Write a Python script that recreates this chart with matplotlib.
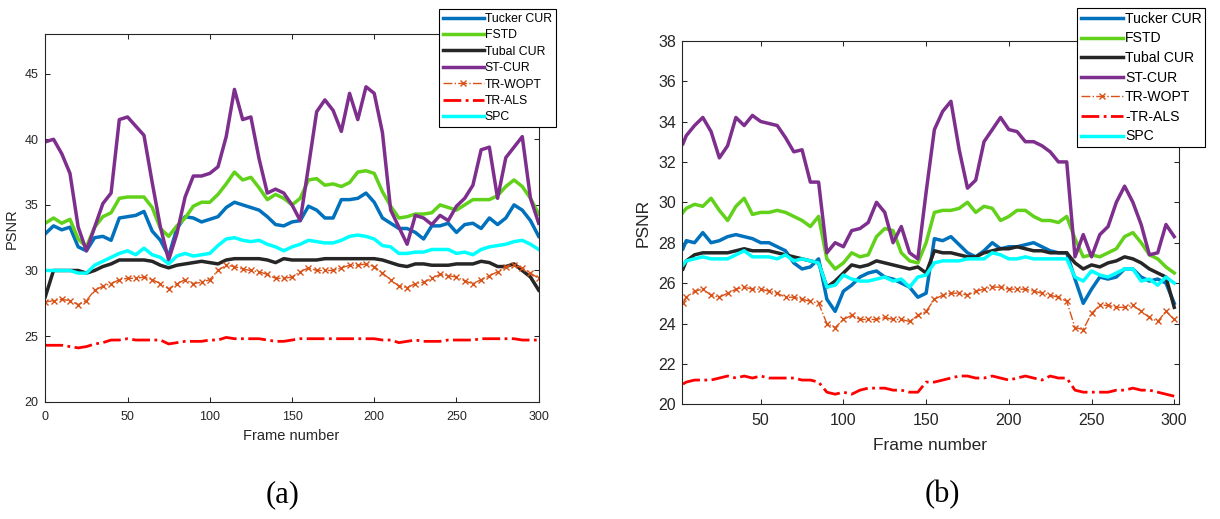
import matplotlib
matplotlib.use("Agg")
import matplotlib.pyplot as plt

plt.rcParams['font.family'] = ['Liberation Sans', 'DejaVu Sans']

# ---------------- data : panel (a) ----------------
frames_a = list(range(0, 301, 5))

a_tucker = [32.8, 33.4, 33.1, 33.3, 31.8, 31.5, 32.5, 32.6, 32.3, 34.0,
            34.1, 34.2, 34.5, 33.0, 32.3, 31.1, 33.2, 34.1, 34.0, 33.7,
            33.9, 34.1, 34.8, 35.2, 35.0, 34.8, 34.6, 34.1, 33.5, 33.4,
            33.7, 33.8, 34.9, 34.6, 34.0, 34.0, 35.4, 35.4, 35.5, 35.9,
            35.2, 34.0, 33.6, 33.2, 33.2, 32.9, 32.4, 33.4, 33.4, 33.6,
            32.9, 33.5, 33.6, 33.2, 34.0, 33.5, 34.0, 35.0, 34.6, 33.8,
            32.6]
a_fstd = [33.6, 34.0, 33.6, 33.9, 32.4, 31.8, 33.3, 34.1, 34.4, 35.5,
          35.6, 35.6, 35.6, 34.8, 33.2, 32.6, 33.4, 34.0, 34.9, 35.2,
          35.2, 35.8, 36.6, 37.5, 36.9, 37.1, 36.3, 35.4, 35.8, 35.5,
          35.0, 35.5, 36.9, 37.0, 36.5, 36.6, 36.4, 36.7, 37.5, 37.6,
          37.4, 36.0, 34.9, 34.0, 34.1, 34.3, 34.3, 34.4, 35.0, 34.8,
          34.6, 35.0, 35.4, 35.4, 35.4, 35.7, 36.4, 36.9, 36.4, 35.5,
          34.3]
a_tubal = [28.0, 30.0, 30.0, 30.0, 30.0, 29.8, 30.0, 30.3, 30.5, 30.8,
           30.8, 30.8, 30.8, 30.7, 30.4, 30.2, 30.4, 30.5, 30.6, 30.7,
           30.6, 30.5, 30.8, 30.9, 30.9, 30.9, 30.9, 30.8, 30.6, 30.9,
           30.8, 30.8, 30.8, 30.8, 30.9, 30.9, 30.9, 30.9, 30.9, 30.9,
           30.9, 30.8, 30.6, 30.4, 30.3, 30.5, 30.5, 30.4, 30.4, 30.4,
           30.5, 30.5, 30.5, 30.7, 30.6, 30.3, 30.3, 30.5, 30.0, 29.5,
           28.5]
a_stcur = [39.8, 40.0, 38.9, 37.4, 33.3, 31.5, 33.3, 35.1, 35.9, 41.5,
           41.7, 41.0, 40.3, 36.7, 33.3, 30.8, 32.8, 35.6, 37.2, 37.2,
           37.4, 37.9, 40.2, 43.8, 41.5, 41.7, 38.5, 35.9, 36.2, 35.9,
           35.0, 33.8, 37.9, 42.1, 43.0, 42.2, 40.6, 43.5, 41.5, 44.0,
           43.5, 40.5, 34.6, 33.3, 32.0, 34.2, 34.0, 33.5, 34.2, 33.8,
           34.9, 35.5, 36.5, 39.2, 39.4, 35.5, 38.6, 39.4, 40.2, 35.5,
           33.6]
a_trwopt = [27.6, 27.7, 27.8, 27.7, 27.4, 27.7, 28.5, 28.8, 29.0, 29.3,
            29.4, 29.4, 29.5, 29.3, 29.0, 28.6, 29.0, 29.3, 29.0, 29.1,
            29.3, 30.0, 30.4, 30.3, 30.1, 30.0, 29.9, 29.7, 29.4, 29.4,
            29.5, 29.9, 30.2, 30.0, 30.0, 30.0, 30.2, 30.4, 30.4, 30.5,
            30.3, 29.8, 29.3, 28.8, 28.7, 29.0, 29.1, 29.4, 29.7, 29.6,
            29.5, 29.2, 29.0, 29.3, 29.6, 29.9, 30.3, 30.4, 30.2, 29.8,
            29.4]
a_trals = [24.3, 24.3, 24.3, 24.2, 24.1, 24.2, 24.4, 24.5, 24.7, 24.7,
           24.8, 24.7, 24.7, 24.7, 24.7, 24.4, 24.5, 24.6, 24.6, 24.6,
           24.7, 24.7, 24.9, 24.8, 24.8, 24.8, 24.8, 24.7, 24.6, 24.6,
           24.7, 24.8, 24.8, 24.8, 24.8, 24.8, 24.8, 24.8, 24.8, 24.8,
           24.8, 24.7, 24.7, 24.5, 24.6, 24.7, 24.6, 24.6, 24.6, 24.7,
           24.7, 24.7, 24.7, 24.8, 24.8, 24.8, 24.8, 24.8, 24.7, 24.7,
           24.7]
a_spc = [30.0, 30.0, 30.0, 30.0, 29.8, 29.8, 30.4, 30.7, 31.0, 31.3,
         31.5, 31.2, 31.7, 31.2, 31.0, 30.5, 31.1, 31.3, 31.1, 31.2,
         31.3, 31.9, 32.4, 32.5, 32.3, 32.2, 32.3, 32.0, 31.8, 31.5,
         31.8, 32.0, 32.3, 32.2, 32.1, 32.1, 32.3, 32.6, 32.7, 32.6,
         32.4, 31.9, 31.8, 31.3, 31.3, 31.4, 31.4, 31.6, 31.6, 31.6,
         31.3, 31.4, 31.2, 31.6, 31.8, 31.9, 32.0, 32.2, 32.3, 32.0,
         31.6]

# ---------------- data : panel (b) ----------------
frames_b = [3] + list(range(5, 301, 5))

b_tucker = [27.7, 28.1, 28.0, 28.5, 28.0, 28.1, 28.3, 28.4, 28.3, 28.2,
            28.0, 28.0, 27.8, 27.6, 27.0, 26.7, 26.8, 27.2, 25.2, 24.6,
            25.6, 25.9, 26.3, 26.5, 26.6, 26.3, 26.2, 26.0, 25.8, 25.3,
            25.5, 28.2, 28.1, 28.3, 27.9, 27.5, 27.3, 27.6, 28.0, 27.7,
            27.8, 27.8, 27.9, 28.0, 27.8, 27.6, 27.5, 27.5, 26.2, 25.0,
            25.7, 26.3, 26.2, 26.3, 26.7, 26.7, 26.3, 26.1, 26.2, 26.0,
            25.0]
b_fstd = [29.5, 29.7, 29.9, 29.8, 30.2, 29.6, 29.1, 29.8, 30.2, 29.4,
          29.5, 29.5, 29.6, 29.5, 29.3, 29.1, 28.8, 29.3, 27.2, 26.7,
          27.0, 27.5, 27.3, 27.4, 28.3, 28.7, 28.6, 27.5, 27.1, 27.0,
          28.0, 29.5, 29.6, 29.6, 29.7, 30.0, 29.5, 29.8, 29.7, 29.1,
          29.3, 29.6, 29.6, 29.3, 29.1, 29.1, 29.0, 29.3, 28.2, 27.3,
          27.4, 27.3, 27.5, 27.7, 28.3, 28.5, 28.0, 27.4, 27.2, 26.8,
          26.5]
b_tubal = [26.7, 27.1, 27.4, 27.5, 27.5, 27.5, 27.5, 27.6, 27.7, 27.6,
           27.6, 27.6, 27.5, 27.4, 27.3, 27.2, 27.1, 27.0, 25.8, 26.1,
           26.5, 26.9, 26.8, 26.9, 27.1, 27.0, 26.9, 26.8, 26.7, 26.8,
           26.5, 27.6, 27.5, 27.5, 27.4, 27.3, 27.3, 27.5, 27.6, 27.7,
           27.7, 27.8, 27.7, 27.6, 27.6, 27.5, 27.5, 27.5, 27.0, 26.7,
           26.9, 26.8, 27.0, 27.1, 27.3, 27.2, 27.0, 26.7, 26.5, 26.3,
           24.8]
b_stcur = [32.9, 33.3, 33.8, 34.2, 33.5, 32.2, 32.8, 34.2, 33.8, 34.3,
           34.0, 33.9, 33.8, 33.2, 32.5, 32.6, 31.0, 31.0, 27.5, 28.0,
           27.8, 28.6, 28.7, 29.0, 30.0, 29.5, 28.0, 28.8, 27.5, 27.2,
           30.5, 33.6, 34.5, 35.0, 32.6, 30.7, 31.1, 33.0, 33.6, 34.2,
           33.6, 33.5, 33.0, 33.0, 32.8, 32.5, 32.0, 32.0, 27.3, 28.4,
           27.3, 28.4, 28.8, 30.0, 30.8, 30.0, 28.9, 27.4, 27.5, 28.9,
           28.3]
b_trwopt = [25.0, 25.3, 25.6, 25.7, 25.4, 25.3, 25.5, 25.7, 25.8, 25.7,
            25.7, 25.6, 25.5, 25.3, 25.3, 25.2, 25.1, 25.0, 24.0, 23.8,
            24.2, 24.4, 24.2, 24.2, 24.2, 24.3, 24.2, 24.2, 24.1, 24.4,
            24.6, 25.2, 25.4, 25.5, 25.5, 25.4, 25.6, 25.7, 25.8, 25.8,
            25.7, 25.7, 25.7, 25.6, 25.5, 25.4, 25.3, 25.1, 23.8, 23.7,
            24.5, 24.9, 24.9, 24.8, 24.8, 24.9, 24.6, 24.3, 24.1, 24.6,
            24.2]
b_trals = [21.0, 21.1, 21.2, 21.2, 21.2, 21.3, 21.4, 21.3, 21.4, 21.3,
           21.4, 21.3, 21.3, 21.3, 21.3, 21.2, 21.2, 21.1, 20.6, 20.5,
           20.6, 20.5, 20.7, 20.8, 20.8, 20.8, 20.7, 20.7, 20.6, 20.6,
           21.1, 21.1, 21.2, 21.3, 21.4, 21.4, 21.3, 21.3, 21.4, 21.3,
           21.2, 21.3, 21.4, 21.3, 21.2, 21.4, 21.3, 21.3, 20.7, 20.6,
           20.6, 20.6, 20.6, 20.7, 20.7, 20.8, 20.7, 20.7, 20.6, 20.5,
           20.4]
b_spc = [26.9, 27.1, 27.2, 27.3, 27.2, 27.2, 27.2, 27.4, 27.6, 27.3,
         27.3, 27.3, 27.2, 27.4, 27.1, 27.2, 27.1, 27.0, 25.8, 25.9,
         26.4, 26.2, 26.1, 26.1, 26.2, 26.3, 26.1, 26.2, 25.8, 26.3,
         26.4, 27.0, 27.1, 27.1, 27.1, 27.2, 27.2, 27.2, 27.5, 27.4,
         27.2, 27.2, 27.3, 27.2, 27.2, 27.2, 27.2, 27.2, 26.3, 26.1,
         26.6, 26.4, 26.3, 26.5, 26.7, 26.7, 26.1, 26.2, 25.9, 26.3,
         26.0]

labels_a = ['Tucker CUR', 'FSTD', 'Tubal CUR', 'ST-CUR', 'TR-WOPT', 'TR-ALS', 'SPC']
labels_b = ['Tucker CUR', 'FSTD', 'Tubal CUR', 'ST-CUR', 'TR-WOPT', '-TR-ALS', 'SPC']

xticks_a = [0, 50, 100, 150, 200, 250, 300]
yticks_a = [20, 25, 30, 35, 40, 45]
xticks_b = [50, 100, 150, 200, 250, 300]
yticks_b = [20, 22, 24, 26, 28, 30, 32, 34, 36, 38]

# ---------------- styles ----------------
C_BLUE = '#0072BD'
C_GREEN = '#61D11A'
C_BLACK = '#262626'
C_PURPLE = '#7E2F8E'
C_ORANGE = '#D95319'
C_RED = '#FF0000'
C_CYAN = '#00FFFF'
TXT = '#262626'

W, H = 1220, 519
fig = plt.figure(figsize=(W / 100, H / 100), dpi=100)

ax_a = fig.add_axes([45.3 / W, 1 - 401.7 / H, (538.7 - 45.3) / W, (401.7 - 34.3) / H])
ax_b = fig.add_axes([682.3 / W, 1 - 404.3 / H, (1178.7 - 682.3) / W, (404.3 - 40.7) / H])


def draw(ax, fr, series, labels, lw, wopt_ms):
    tk, fs, tb, st, tw, ta, sp = series
    ax.plot(fr, tk, color=C_BLUE, lw=lw, label=labels[0])
    ax.plot(fr, fs, color=C_GREEN, lw=lw, label=labels[1])
    ax.plot(fr, tb, color=C_BLACK, lw=lw, label=labels[2])
    ax.plot(fr, st, color=C_PURPLE, lw=lw, label=labels[3])
    ax.plot(fr, tw, color=C_ORANGE, lw=1.0, ls='-.', marker='x', ms=wopt_ms,
            mew=1.0, label=labels[4])
    ax.plot(fr, ta, color=C_RED, lw=2.0, ls='-.', label=labels[5])
    ax.plot(fr, sp, color=C_CYAN, lw=lw, label=labels[6])


draw(ax_a, frames_a, [a_tucker, a_fstd, a_tubal, a_stcur, a_trwopt, a_trals, a_spc],
     labels_a, 2.5, 4)
draw(ax_b, frames_b, [b_tucker, b_fstd, b_tubal, b_stcur, b_trwopt, b_trals, b_spc],
     labels_b, 2.5, 4)

# axes (a)
ax_a.set_xlim(0, 300)
ax_a.set_ylim(20, 48)
ax_a.set_xticks(xticks_a)
ax_a.set_yticks(yticks_a)
ax_a.tick_params(direction='in', length=3.5, width=0.75, top=True, right=True,
                 labelsize=9, colors=TXT, pad=5)
ax_a.tick_params(axis='x', pad=7)
ax_a.set_xlabel('Frame number', fontsize=10.5, color=TXT, va='center')
ax_a.set_ylabel('PSNR', fontsize=10.5, color=TXT, va='center')
ax_a.xaxis.set_label_coords(0.499, -0.093)
ax_a.yaxis.set_label_coords(-0.0675, 0.47)

# axes (b)
ax_b.set_xlim(2.6, 302.7)
ax_b.set_ylim(20, 38)
ax_b.set_xticks(xticks_b)
ax_b.set_yticks(yticks_b)
ax_b.tick_params(direction='in', length=3.5, width=0.75, top=True, right=True,
                 labelsize=11.5, colors=TXT, pad=4.5)
ax_b.tick_params(axis='x', pad=6.5)
ax_b.set_xlabel('Frame number', fontsize=12.5, color=TXT, va='center')
ax_b.set_ylabel('PSNR', fontsize=12.5, color=TXT, va='center')
ax_b.xaxis.set_label_coords(0.499, -0.112)
ax_b.yaxis.set_label_coords(-0.078, 0.50)

for ax in (ax_a, ax_b):
    for s in ax.spines.values():
        s.set_color(TXT)
        s.set_linewidth(0.8)

# legends
leg_a = ax_a.legend(loc='upper left', bbox_to_anchor=(439 / W, 1 - 9.3 / H),
                    bbox_transform=fig.transFigure, borderaxespad=0,
                    fontsize=8.8, labelspacing=0.36, borderpad=0.3,
                    handlelength=3.35, handletextpad=0.1, fancybox=False,
                    framealpha=1, edgecolor='black')
leg_a.get_frame().set_linewidth(0.8)
leg_b = ax_b.legend(loc='upper left', bbox_to_anchor=(1077.3 / W, 1 - 8.3 / H),
                    bbox_transform=fig.transFigure, borderaxespad=0,
                    fontsize=10.1, labelspacing=0.4, borderpad=0.25,
                    handlelength=3.0, handletextpad=0.15, fancybox=False,
                    framealpha=1, edgecolor='black')
leg_b.get_frame().set_linewidth(0.8)

# captions
fig.text(283 / W, 1 - 495 / H, '(a)', fontsize=22, family=['Liberation Serif', 'DejaVu Serif'],
         ha='center', va='center', color='black')
fig.text(942 / W, 1 - 495 / H, '(b)', fontsize=22, family=['Liberation Serif', 'DejaVu Serif'],
         ha='center', va='center', color='black')

fig.savefig('out.png', dpi=100)
